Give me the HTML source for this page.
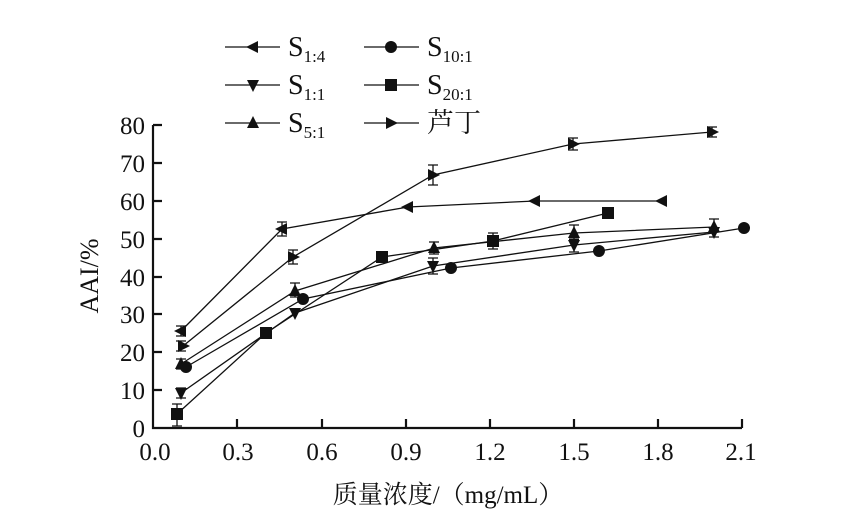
<!DOCTYPE html>
<html><head><meta charset="utf-8"><style>
body{margin:0;background:#fff}
text{font-family:"Liberation Serif","Noto Serif CJK SC",serif;fill:#111}
</style></head><body>
<svg width="857" height="524" viewBox="0 0 857 524" xmlns="http://www.w3.org/2000/svg">
<defs>
<path id="tl" d="M-7,0 L5,-6 L5,6Z"/>
<path id="tr" d="M7,0 L-5,-6 L-5,6Z"/>
<path id="tu" d="M0,-7 L6,5 L-6,5Z"/>
<path id="td" d="M0,7 L6,-5 L-6,-5Z"/>
<rect id="sq" x="-6" y="-6" width="12" height="12"/>
<circle id="ci" r="6"/>
</defs>
<g stroke="#111" stroke-width="2.2" fill="none">
<path d="M153,125 V428 H742"/>
<path d="M153,125h9M153,163h9M153,201h9M153,239h9M153,277h9M153,314h9M153,352h9M153,390h9"/>
<path d="M237,428v-9M322,428v-9M406,428v-9M490,428v-9M574,428v-9M658,428v-9M742,428v-9"/>
</g>
<g font-size="25" text-anchor="end">
<text x="145" y="134">80</text><text x="145" y="172">70</text><text x="145" y="210">60</text><text x="145" y="248">50</text><text x="145" y="286">40</text><text x="145" y="323">30</text><text x="145" y="361">20</text><text x="145" y="399">10</text><text x="145" y="437">0</text>
</g>
<g font-size="25" text-anchor="middle">
<text x="155" y="460">0.0</text><text x="238" y="460">0.3</text><text x="322" y="460">0.6</text><text x="406" y="460">0.9</text><text x="490" y="460">1.2</text><text x="574" y="460">1.5</text><text x="658" y="460">1.8</text><text x="741" y="460">2.1</text>
</g>
<text font-size="26" text-anchor="middle" transform="translate(98,276) rotate(-90)">AAI/%</text>
<text font-size="25" x="448" y="503" text-anchor="middle">质量浓度/（mg/mL）</text>
<g stroke="#111" stroke-width="1.3" fill="none">
<polyline points="181,331 282,229 408,207 535,201 662,201"/>
<polyline points="183,346 293,257 433,175 573,144 712,132"/>
<polyline points="181,364 295,291 434,248 574,233 714,227"/>
<polyline points="186,367 303,299 451,268 599,251 744,228"/>
<polyline points="181,393 295,313 433,266 574,245 714,232"/>
<polyline points="177,414 266,333 382,257 493,241 608,213"/>
<path d="M177,404v22M172,404h10M172,426h10 M282,222v14M277,222h10M277,236h10 M293,250v14M288,250h10M288,264h10 M433,165v20M428,165h10M428,185h10 M573,138v12M568,138h10M568,150h10 M712,127v10M707,127h10M707,137h10 M295,283v14M290,283h10M290,297h10 M434,242v12M429,242h10M429,254h10 M574,225v14M569,225h10M569,239h10 M714,219v18M709,219h10M709,237h10 M433,258v16M428,258h10M428,274h10 M574,240v12M569,240h10M569,252h10 M493,233v16M488,233h10M488,249h10 M181,326v10M176,326h10M176,336h10 M181,341v10M176,341h10M176,351h10 M181,359v10M176,359h10M176,369h10 M181,388v10M176,388h10M176,398h10"/>
</g>
<g fill="#111">
<use href="#tl" x="181" y="331"/><use href="#tl" x="282" y="229"/><use href="#tl" x="408" y="207"/><use href="#tl" x="535" y="201"/><use href="#tl" x="662" y="201"/>
<use href="#tr" x="183" y="346"/><use href="#tr" x="293" y="257"/><use href="#tr" x="433" y="175"/><use href="#tr" x="573" y="144"/><use href="#tr" x="712" y="132"/>
<use href="#tu" x="181" y="364"/><use href="#tu" x="295" y="291"/><use href="#tu" x="434" y="248"/><use href="#tu" x="574" y="233"/><use href="#tu" x="714" y="227"/>
<use href="#ci" x="186" y="367"/><use href="#ci" x="303" y="299"/><use href="#ci" x="451" y="268"/><use href="#ci" x="599" y="251"/><use href="#ci" x="744" y="228"/>
<use href="#td" x="181" y="393"/><use href="#td" x="295" y="313"/><use href="#td" x="433" y="266"/><use href="#td" x="574" y="245"/><use href="#td" x="714" y="232"/>
<use href="#sq" x="177" y="414"/><use href="#sq" x="266" y="333"/><use href="#sq" x="382" y="257"/><use href="#sq" x="493" y="241"/><use href="#sq" x="608" y="213"/>
</g>
<g stroke="#111" stroke-width="1.3">
<path d="M225,47h55M225,85h55M225,123h55M364,47h55M364,85h55M364,123h55"/>
</g>
<g fill="#111">
<use href="#tl" x="253" y="47"/><use href="#td" x="253" y="85"/><use href="#tu" x="253" y="123"/>
<use href="#ci" x="391" y="47"/><use href="#sq" x="391" y="85"/><use href="#tr" x="391" y="123"/>
</g>
<g font-size="28">
<text x="288" y="56">S<tspan font-size="17" dy="6">1:4</tspan></text>
<text x="288" y="94">S<tspan font-size="17" dy="6">1:1</tspan></text>
<text x="288" y="132">S<tspan font-size="17" dy="6">5:1</tspan></text>
<text x="427" y="56">S<tspan font-size="17" dy="6">10:1</tspan></text>
<text x="427" y="94">S<tspan font-size="17" dy="6">20:1</tspan></text>
<text x="427" y="132" font-size="27">芦丁</text>
</g>
</svg>
</body></html>
